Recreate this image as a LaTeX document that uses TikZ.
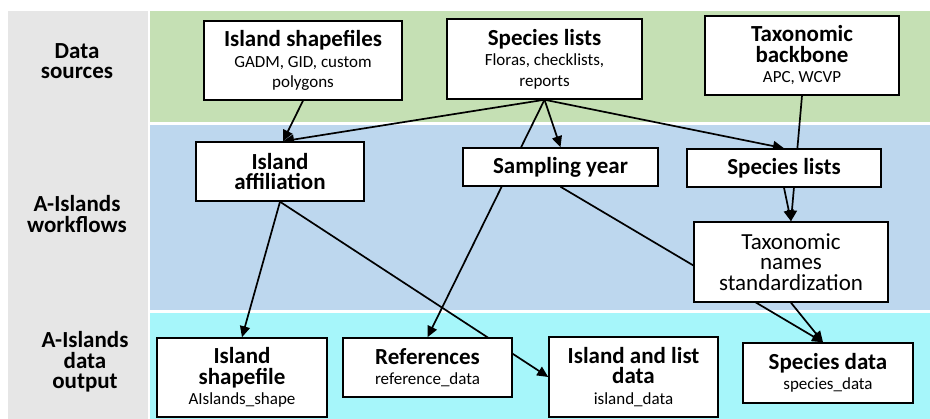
\documentclass[tikz,border=0pt]{standalone}
\usepackage{fontspec}
\setmainfont{Carlito}
\usetikzlibrary{arrows.meta,backgrounds}

\definecolor{srcgreen}{HTML}{C5E0B4}
\definecolor{flowblue}{HTML}{BDD7EE}
\definecolor{outcyan}{HTML}{A6F6FA}
\definecolor{sidegrey}{HTML}{E6E6E6}

\newcommand{\ttl}{\fontsize{23}{20.5}\selectfont\bfseries}
\newcommand{\sbt}{\fontsize{17}{20.5}\selectfont}
\newcommand{\rgl}{\fontsize{23}{20.5}\selectfont}

\tikzset{
  box/.style={draw, fill=white, line width=1.5pt, align=center, inner sep=0pt, font=\sbt},
  flow/.style={line width=1.7pt, -{Triangle[length=11pt,width=10pt]}},
  lane/.style={font=\ttl, align=center}
}

\begin{document}
\begin{tikzpicture}[x=1pt,y=-1pt]
	\useasboundingbox (0,0) rectangle (930,419);

	% lane titles
	\node[lane] (lsrc) at (77,61) {Data\\sources};
	\node[lane] (lflow) at (77,214) {A-Islands\\workflows};
	\node[lane] (lout) at (85,362) {A-Islands\\data\\output};

	% data sources
	\node[box, minimum width=198pt, minimum height=79pt] (shp) at (303,60.5) {{\ttl Island shapefiles}\\GADM, GID, custom\\polygons};
	\node[box, minimum width=195pt, minimum height=80pt] (slist) at (544.5,59) {{\ttl Species lists}\\Floras, checklists,\\reports};
	\node[box, minimum width=194pt, minimum height=79pt] (backbone) at (802,55.5) {{\ttl Taxonomic}\\{\ttl backbone}\\APC, WCVP};

	% workflows
	\node[box, minimum width=168pt, minimum height=59pt] (affil) at (280,171.5) {{\ttl Island}\\{\ttl affiliation}};
	\node[box, minimum width=195pt, minimum height=38pt] (year) at (560.5,167) {{\ttl Sampling year}};
	\node[box, minimum width=194pt, minimum height=38pt] (slist2) at (784,168) {{\ttl Species lists}};
	\node[box, minimum width=194pt, minimum height=80pt] (taxstd) at (791,262) {{\rgl Taxonomic}\\{\rgl names}\\{\rgl standardization}};

	% data output
	\node[box, minimum width=170pt, minimum height=79pt] (shpout) at (242,377.5) {{\ttl Island}\\{\ttl shapefile}\\AIslands\_shape};
	\node[box, minimum width=169pt, minimum height=59pt] (refs) at (427.5,367.5) {{\ttl References}\\reference\_data};
	\node[box, minimum width=169pt, minimum height=80pt] (isldata) at (633.5,377) {{\ttl Island and list}\\{\ttl data}\\island\_data};
	\node[box, minimum width=170pt, minimum height=60pt] (spdata) at (828,373) {{\ttl Species data}\\species\_data};

	\begin{pgfonlayer}{background}
		\fill[sidegrey] (8,11) rectangle (148,419);
		\fill[srcgreen] (150,11) rectangle (930,122);
		\fill[flowblue] (150,125) rectangle (930,310);
		\fill[outcyan] (150,313) rectangle (930,419);

		\draw[flow] (shp.south) -- ([xshift=3pt]affil.north);
		\draw[flow] (slist.south) -- ([xshift=3pt]affil.north);
		\draw[flow] (slist.south) -- (year.north);
		\draw[flow] (slist.south) -- (slist2.north);
		\draw[flow] (slist.south) -- (refs.north);
		\draw[flow] (backbone.south) -- (taxstd.north);
		\draw[flow] (slist2.south) -- (taxstd.north);
		\draw[flow] (year.south) -- ([xshift=-5pt]spdata.north);
		\draw[flow] (taxstd.south) -- ([xshift=-5pt]spdata.north);
		\draw[flow] (affil.south) -- (shpout.north);
		\draw[flow] (affil.south) -- (isldata.west);
	\end{pgfonlayer}
\end{tikzpicture}
\end{document}
